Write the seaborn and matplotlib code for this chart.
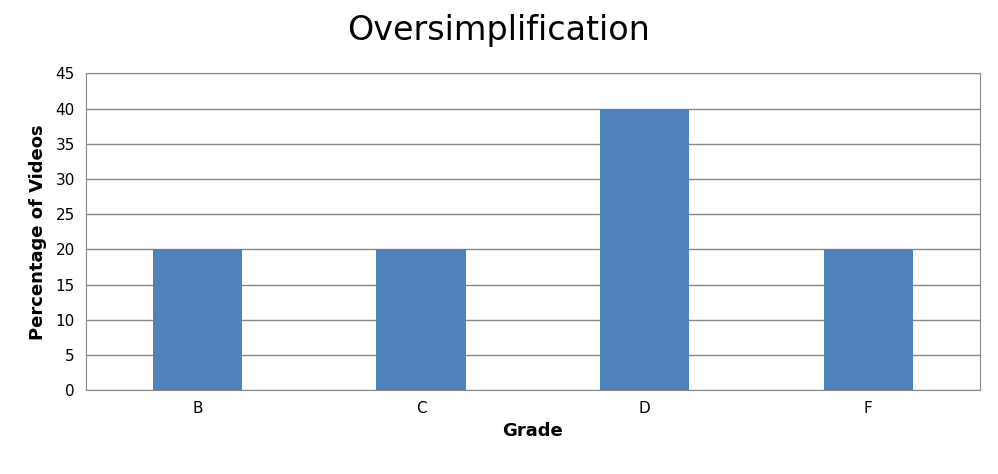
import matplotlib
matplotlib.use('Agg')
import matplotlib.pyplot as plt
import seaborn as sns
import pandas as pd

grades = ['B', 'C', 'D', 'F']
percentages = [20, 20, 40, 20]

df = pd.DataFrame({'Grade': grades, 'Percentage': percentages})

fig = plt.figure(figsize=(9.98, 4.74), dpi=100)
ax = fig.add_axes([0.086, 0.177, 0.896, 0.668])
sns.barplot(data=df, x='Grade', y='Percentage', color='#4F81BD',
            saturation=1, width=0.4, ax=ax, zorder=3)

ax.set_ylim(0, 45)
ax.set_yticks(range(0, 46, 5))
ax.yaxis.grid(True, color='#888888', linewidth=1, zorder=0)
ax.set_axisbelow(True)
for s in ax.spines.values():
    s.set_color('#888888')
ax.tick_params(axis='both', length=0, labelsize=11, pad=8)
ax.set_xlabel('Grade', fontsize=13, fontweight='bold', labelpad=4)
ax.set_ylabel('Percentage of Videos', fontsize=13, fontweight='bold', labelpad=6)
fig.suptitle('Oversimplification', fontsize=24, y=0.97)

plt.savefig('out.png', dpi=100)
plt.close()
